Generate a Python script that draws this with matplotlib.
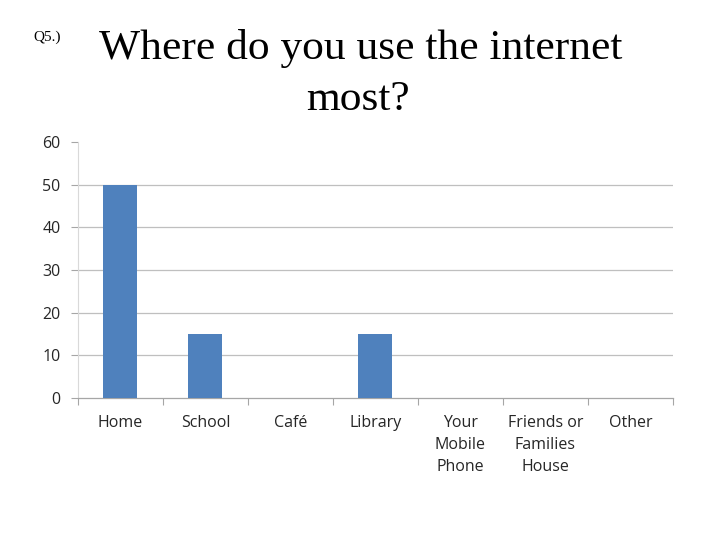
import matplotlib.pyplot as plt
import numpy as np

# Data
CATEGORIES = ["Home", "School", "Café", "Library", "Your\nMobile\nPhone",
              "Friends or\nFamilies\nHouse", "Other"]
VALUES = [50, 15, 0, 15, 0, 0, 0]
Y_TICKS = [0, 10, 20, 30, 40, 50, 60]

BAR_COLOR = "#4F81BD"
GRID_COLOR = "#BFBFBF"

fig = plt.figure(figsize=(7.2, 5.4), dpi=100)
fig.patch.set_facecolor("white")

# Header text
fig.text(0.046, 0.924, "Q5.)", family="Liberation Serif", fontsize=11, ha="left", va="baseline")
fig.text(0.5015, 0.890, "Where do you use the internet", family="Liberation Serif",
         fontsize=31.3, ha="center", va="baseline")
fig.text(0.497, 0.797, "most?", family="Liberation Serif",
         fontsize=31.3, ha="center", va="baseline")

ax = fig.add_axes([0.1083, 0.263, 0.8264, 0.474])
x = np.arange(len(CATEGORIES))
ax.bar(x, VALUES, width=0.4, color=BAR_COLOR, zorder=3)

ax.set_xlim(-0.5, len(CATEGORIES) - 0.5)
ax.set_ylim(0, 60)
ax.set_yticks(Y_TICKS)
ax.set_yticklabels([str(v) for v in Y_TICKS], family="Open Sans", fontsize=11.5, color="#262626")
ax.set_xticks(x)
ax.set_xticklabels(CATEGORIES, family="Open Sans", fontsize=11.5, color="#262626",
                   linespacing=1.52, va="top")
ax.tick_params(axis="x", which="major", length=0, pad=12)
ax.set_xticks(np.arange(-0.5, len(CATEGORIES)), minor=True)
ax.tick_params(axis="x", which="minor", length=5, color="#A6A6A6", width=0.8)
ax.tick_params(axis="y", length=5, color="#A6A6A6", width=0.8, pad=7.5)

# gridlines (top one not drawn in original)
for v in Y_TICKS[1:-1]:
    ax.axhline(v, color=GRID_COLOR, lw=0.9, zorder=1)

for s in ["top", "right"]:
    ax.spines[s].set_visible(False)
ax.spines["left"].set_color("#D9D9D9")
ax.spines["left"].set_linewidth(0.8)
ax.spines["bottom"].set_color("#A6A6A6")
ax.spines["bottom"].set_linewidth(0.9)

fig.savefig("out.png", dpi=100)
